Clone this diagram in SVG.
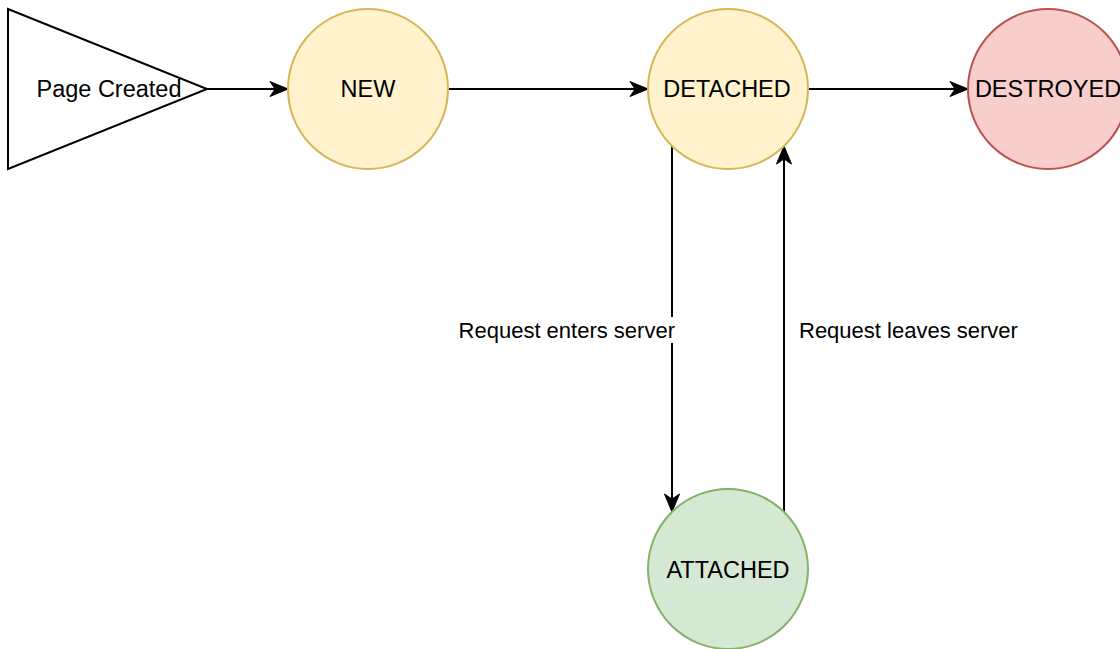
<svg xmlns="http://www.w3.org/2000/svg" width="1120" height="649" viewBox="0 0 1120 649">
<defs>
<marker id="arr" viewBox="0 0 20 20" refX="19" refY="10" markerWidth="20" markerHeight="20" markerUnits="userSpaceOnUse" orient="auto">
<path d="M1,2.5 L19,10 L1,17.5 L6,10 Z" fill="#000" stroke="#000" stroke-width="1"/>
</marker>
<style>
.lbl{font-family:"Liberation Sans",Arial,sans-serif;font-size:23.5px;fill:#000;text-anchor:middle}
.elbl{font-family:"Liberation Sans",Arial,sans-serif;font-size:22px;fill:#000}
.edge{fill:none;stroke:#000;stroke-width:2}
.yel{fill:#fff2cc;stroke:#d6b656;stroke-width:2}
.red{fill:#f8cecc;stroke:#b85450;stroke-width:2}
.grn{fill:#d5e8d4;stroke:#82b366;stroke-width:2}
</style>
</defs>
<rect width="1120" height="649" fill="#fff"/>
<g id="connectors">
<path class="edge" d="M207,89 L288,89" marker-end="url(#arr)"/>
<path class="edge" d="M448,89 L648,89" marker-end="url(#arr)"/>
<path class="edge" d="M808,89 L968,89" marker-end="url(#arr)"/>
<path class="edge" d="M672,146 L672,512" marker-end="url(#arr)"/>
<path class="edge" d="M784,512 L784,146" marker-end="url(#arr)"/>
<rect x="457" y="317" width="219" height="26" fill="#fff"/>
<text class="elbl" x="675" y="338" text-anchor="end">Request enters server</text>
<text class="elbl" x="799" y="338">Request leaves server</text>
</g>
<g id="page-created">
<polygon points="8,9 207,89 8,169" fill="#fff" stroke="#000" stroke-width="2"/>
<text class="lbl" x="109" y="97">Page Created</text>
</g>
<g id="new">
<circle class="yel" cx="368" cy="89" r="80"/>
<text class="lbl" x="368" y="97">NEW</text>
</g>
<g id="detached">
<circle class="yel" cx="728" cy="89" r="80"/>
<text class="lbl" x="727" y="97">DETACHED</text>
</g>
<g id="destroyed">
<circle class="red" cx="1048" cy="89" r="80"/>
<text class="lbl" x="1048" y="97">DESTROYED</text>
</g>
<g id="attached">
<circle class="grn" cx="728" cy="569" r="80"/>
<text class="lbl" x="728" y="578">ATTACHED</text>
</g>
</svg>
